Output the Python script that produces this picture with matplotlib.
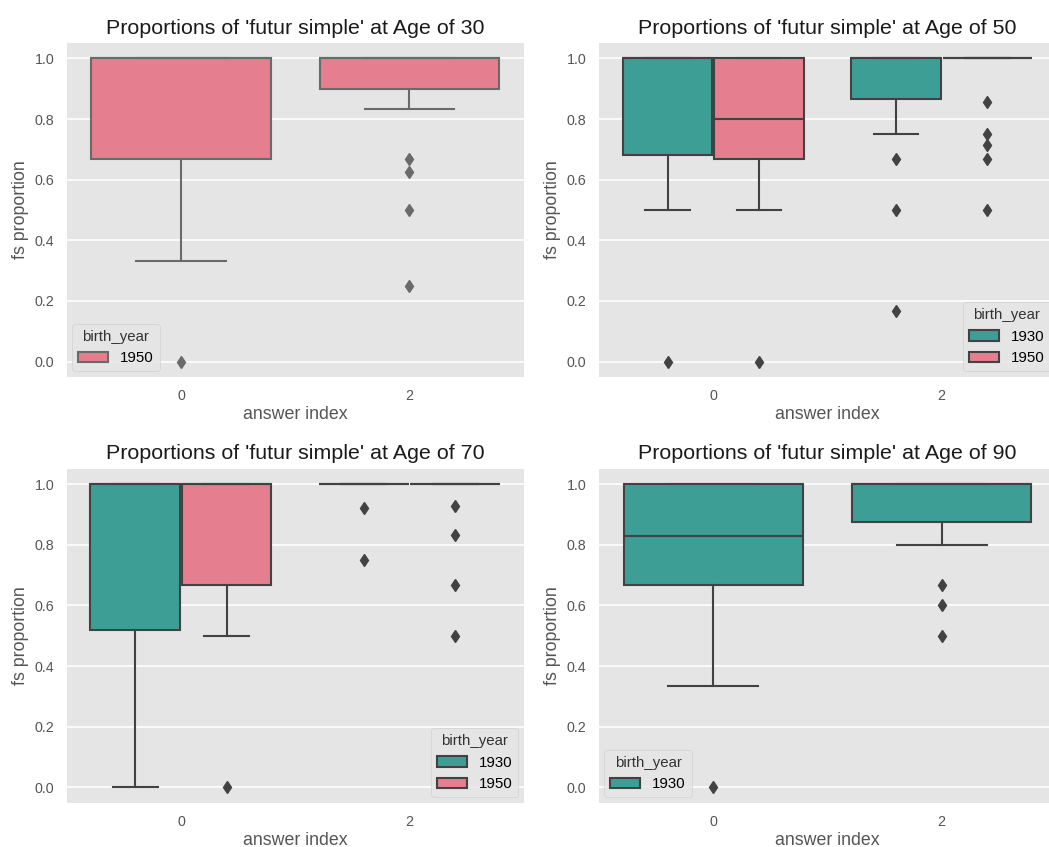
import matplotlib
matplotlib.use("Agg")
import matplotlib.pyplot as plt
from matplotlib.patches import Patch

plt.style.use("ggplot")
plt.rcParams["font.family"] = ["Liberation Sans", "DejaVu Sans"]

# ---------------- data ----------------
ages = [30, 50, 70, 90]
categories = ["0", "2"]          # answer index labels
hue_levels = ["1930", "1950"]
hue_colors = {"1930": "#3d9e96", "1950": "#e57e8f"}

# Each series: per category values (category "0", category "2")
# age 30 – only 1950
a30_1950_lo = [0.333, 0.833]
a30_1950_q1 = [0.667, 0.900]
a30_1950_med = [1.0, 1.0]
a30_1950_q3 = [1.0, 1.0]
a30_1950_hi = [1.0, 1.0]
a30_1950_fliers = [[0.0], [0.667, 0.625, 0.5, 0.25]]

# age 50 – 1930 and 1950
a50_1930_lo = [0.5, 0.75]
a50_1930_q1 = [0.68, 0.867]
a50_1930_med = [1.0, 1.0]
a50_1930_q3 = [1.0, 1.0]
a50_1930_hi = [1.0, 1.0]
a50_1930_fliers = [[0.0], [0.667, 0.5, 0.167]]

a50_1950_lo = [0.5, 1.0]
a50_1950_q1 = [0.667, 1.0]
a50_1950_med = [0.8, 1.0]
a50_1950_q3 = [1.0, 1.0]
a50_1950_hi = [1.0, 1.0]
a50_1950_fliers = [[0.0], [0.857, 0.75, 0.714, 0.667, 0.5]]

# age 70 – 1930 and 1950
a70_1930_lo = [0.0, 1.0]
a70_1930_q1 = [0.52, 1.0]
a70_1930_med = [1.0, 1.0]
a70_1930_q3 = [1.0, 1.0]
a70_1930_hi = [1.0, 1.0]
a70_1930_fliers = [[], [0.923, 0.75]]

a70_1950_lo = [0.5, 1.0]
a70_1950_q1 = [0.667, 1.0]
a70_1950_med = [1.0, 1.0]
a70_1950_q3 = [1.0, 1.0]
a70_1950_hi = [1.0, 1.0]
a70_1950_fliers = [[0.0], [0.929, 0.833, 0.667, 0.5]]

# age 90 – only 1930
a90_1930_lo = [0.333, 0.8]
a90_1930_q1 = [0.667, 0.875]
a90_1930_med = [0.83, 1.0]
a90_1930_q3 = [1.0, 1.0]
a90_1930_hi = [1.0, 1.0]
a90_1930_fliers = [[0.0], [0.667, 0.6, 0.5]]

panels = {
    30: {"1950": (a30_1950_lo, a30_1950_q1, a30_1950_med, a30_1950_q3, a30_1950_hi, a30_1950_fliers)},
    50: {"1930": (a50_1930_lo, a50_1930_q1, a50_1930_med, a50_1930_q3, a50_1930_hi, a50_1930_fliers),
         "1950": (a50_1950_lo, a50_1950_q1, a50_1950_med, a50_1950_q3, a50_1950_hi, a50_1950_fliers)},
    70: {"1930": (a70_1930_lo, a70_1930_q1, a70_1930_med, a70_1930_q3, a70_1930_hi, a70_1930_fliers),
         "1950": (a70_1950_lo, a70_1950_q1, a70_1950_med, a70_1950_q3, a70_1950_hi, a70_1950_fliers)},
    90: {"1930": (a90_1930_lo, a90_1930_q1, a90_1930_med, a90_1930_q3, a90_1930_hi, a90_1930_fliers)},
}
legend_locs = {30: "lower left", 50: "lower right", 70: "lower right", 90: "lower left"}
edge_grays = {30: "#6a6a6a", 50: "#424242", 70: "#424242", 90: "#424242"}

# ---------------- layout ----------------
W, H = 1049, 847
fig = plt.figure(figsize=(W / 100, H / 100), dpi=100)
ax_w = 457 / W
ax_h = 333.4 / H
lefts = [66.7 / W, 599 / W]
bottoms = [1 - 376.7 / H, 1 - 802.5 / H]
positions_ax = {30: (lefts[0], bottoms[0]), 50: (lefts[1], bottoms[0]),
                70: (lefts[0], bottoms[1]), 90: (lefts[1], bottoms[1])}

for age in ages:
    x0, y0 = positions_ax[age]
    ax = fig.add_axes([x0, y0, ax_w, ax_h])
    series = panels[age]
    n = len(series)
    total_w = 0.8
    each_w = total_w / n
    box_w = each_w * 0.98
    gray = edge_grays[age]
    handles = []
    for j, (hue, vals) in enumerate(series.items()):
        lo, q1, med, q3, hi, fl = vals
        offset = -total_w / 2 + each_w * (j + 0.5)
        stats = []
        pos = []
        for i in range(len(categories)):
            stats.append(dict(whislo=lo[i], q1=q1[i], med=med[i], q3=q3[i],
                              whishi=hi[i], fliers=fl[i]))
            pos.append(i + offset)
        ax.bxp(stats, positions=pos, widths=box_w, patch_artist=True,
               showfliers=True,
               boxprops=dict(facecolor=hue_colors[hue], edgecolor=gray, linewidth=1.5),
               medianprops=dict(color=gray, linewidth=1.5),
               whiskerprops=dict(color=gray, linewidth=1.5),
               capprops=dict(color=gray, linewidth=1.5),
               flierprops=dict(marker="d", markerfacecolor=gray, markeredgecolor=gray,
                               markersize=6.5, linestyle="none"))
        handles.append(Patch(facecolor=hue_colors[hue], edgecolor=gray, linewidth=1.5, label=hue))
    ax.set_xlim(-0.5, 1.5)
    ax.set_ylim(-0.05, 1.05)
    ax.set_xticks(range(len(categories)))
    ax.set_xticklabels(categories)
    ax.set_yticks([0.0, 0.2, 0.4, 0.6, 0.8, 1.0])
    ax.set_yticklabels(["0.0", "0.2", "0.4", "0.6", "0.8", "1.0"])
    ax.xaxis.grid(False)
    ax.yaxis.grid(True, color="white", linewidth=1.2)
    ax.set_axisbelow(True)
    ax.tick_params(axis="both", length=0, pad=9, labelsize=10.3, colors="#555555")
    ax.set_xlabel("answer index", fontsize=12.8, color="#555555", labelpad=2)
    ax.set_ylabel("fs proportion", fontsize=12.8, color="#555555", labelpad=4)
    ax.set_title(f"Proportions of 'futur simple' at Age of {age}", fontsize=15.4,
                 color="#1a1a1a", pad=7)
    for s in ax.spines.values():
        s.set_visible(False)
    leg = ax.legend(handles=handles, title="birth_year", loc=legend_locs[age],
                    fontsize=10.8, title_fontsize=10.8, handlelength=2.0,
                    borderaxespad=0.35, framealpha=0.8)
    leg.get_title().set_color("#333333")

fig.savefig("out.png", dpi=100)
